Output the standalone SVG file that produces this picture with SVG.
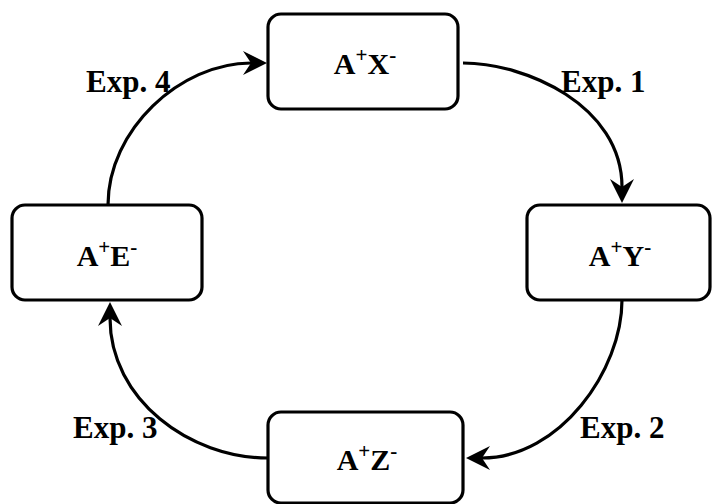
<svg xmlns="http://www.w3.org/2000/svg" width="712" height="504" viewBox="0 0 712 504">
  <defs>
    <style>
      .box { fill: #ffffff; stroke: #000000; stroke-width: 3.2; }
      .lbl { font-family: 'Liberation Serif', 'Times New Roman', Times, serif; font-weight: 700; font-size: 30px; fill: #000000; text-anchor: middle; }
      .exp { font-family: 'Liberation Serif', 'Times New Roman', Times, serif; font-weight: 700; font-size: 31px; fill: #000000; }
      .edge { fill: none; stroke: #000000; stroke-width: 3.2; }
    </style>
    <!-- classic notched arrowhead; the path ends at the notch, tip lies 16 units ahead -->
    <marker id="arrow" markerUnits="userSpaceOnUse" markerWidth="40" markerHeight="40" refX="0" refY="0" orient="auto" overflow="visible">
      <path d="M16,0 L-8,-12 L0,0 L-8,12 Z" fill="#000000"/>
    </marker>
  </defs>

  <g id="connectors">
    <path id="exp1" class="edge" d="M463,63 C525,63 622,105 622,187" marker-end="url(#arrow)"/>
    <path id="exp2" class="edge" d="M622,300 C622,370 560,458 482,458" marker-end="url(#arrow)"/>
    <path id="exp3" class="edge" d="M268,458 C190,458 110,400 110,318" marker-end="url(#arrow)"/>
    <path id="exp4" class="edge" d="M108,205 C108,130 180,63 251,63" marker-end="url(#arrow)"/>
  </g>

  <g id="edge-labels">
    <text class="exp" x="561" y="92">Exp. 1</text>
    <text class="exp" x="580" y="438">Exp. 2</text>
    <text class="exp" x="73" y="438">Exp. 3</text>
    <text class="exp" x="86" y="92">Exp. 4</text>
  </g>

  <g id="node-x">
    <rect class="box" x="268" y="14" width="190" height="95" rx="13"/>
    <text class="lbl" x="365" y="74">A<tspan font-size="21" dy="-12">+</tspan><tspan dy="12">X</tspan><tspan font-size="21" dy="-12">-</tspan></text>
  </g>

  <g id="node-y">
    <rect class="box" x="527" y="205" width="183" height="95" rx="13"/>
    <text class="lbl" x="620" y="266">A<tspan font-size="21" dy="-12">+</tspan><tspan dy="12">Y</tspan><tspan font-size="21" dy="-12">-</tspan></text>
  </g>

  <g id="node-z">
    <rect class="box" x="268" y="412" width="195" height="91" rx="13"/>
    <text class="lbl" x="367" y="470">A<tspan font-size="21" dy="-12">+</tspan><tspan dy="12">Z</tspan><tspan font-size="21" dy="-12">-</tspan></text>
  </g>

  <g id="node-e">
    <rect class="box" x="12" y="205" width="190" height="95" rx="13"/>
    <text class="lbl" x="107" y="266">A<tspan font-size="21" dy="-12">+</tspan><tspan dy="12">E</tspan><tspan font-size="21" dy="-12">-</tspan></text>
  </g>
</svg>
